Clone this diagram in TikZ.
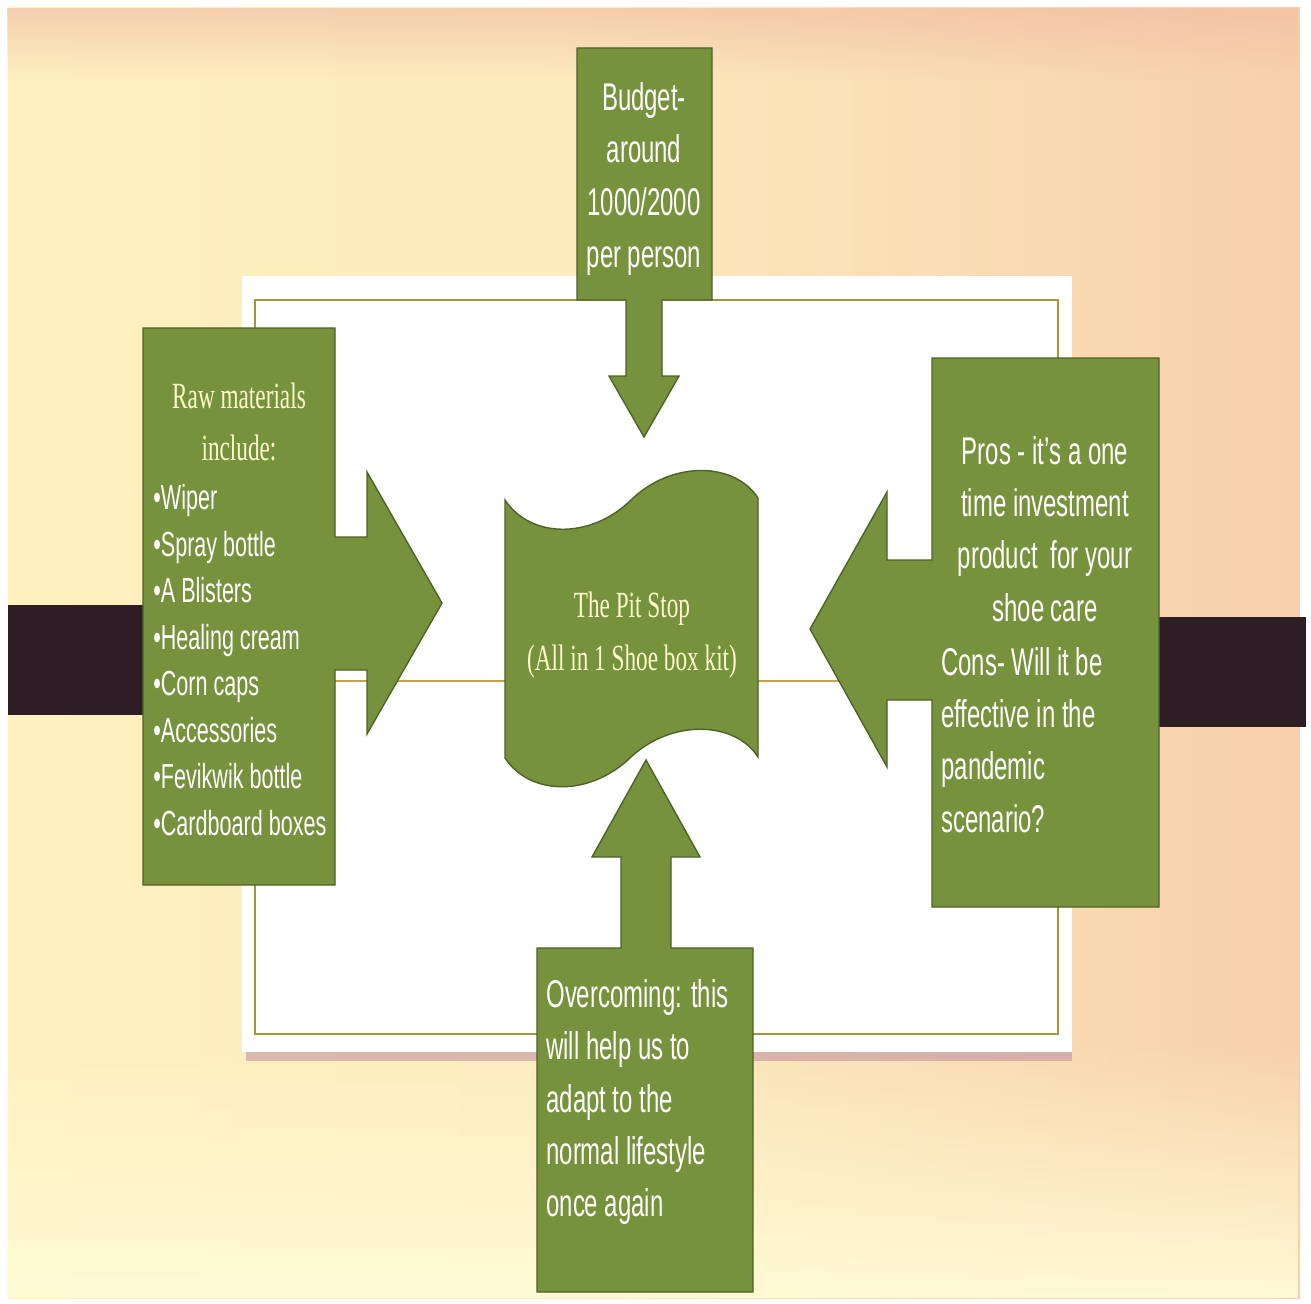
\documentclass[tikz,border=0pt]{standalone}
\usepackage{fontspec}
\usetikzlibrary{fadings}
\newfontfamily\condsans[FakeStretch=0.62]{Liberation Sans}
\newfontfamily\condserif[FakeStretch=0.63]{Liberation Serif}
\definecolor{boxgreen}{RGB}{118,146,60}
\definecolor{boxedge}{RGB}{79,98,40}
\definecolor{cream}{RGB}{252,250,205}
\definecolor{bgA}{RGB}{255,245,192}
\definecolor{bgB}{RGB}{253,236,190}
\definecolor{bgC}{RGB}{247,206,170}
\definecolor{bgD}{RGB}{243,186,156}
\definecolor{pinkband}{RGB}{240,185,165}
\definecolor{lowcream}{RGB}{255,250,212}
\definecolor{darkband}{RGB}{45,30,38}
\definecolor{cardline}{RGB}{165,150,60}
\definecolor{midline}{RGB}{205,160,70}
\definecolor{shadowc}{RGB}{190,140,160}
\pgfdeclarehorizontalshading{bgshade}{100bp}{color(0bp)=(bgA); color(45bp)=(bgB); color(78bp)=(bgC); color(100bp)=(bgD)}
\tikzfading[name=bandfade, top color=transparent!100, middle color=transparent!45, bottom color=transparent!100]
\tikzfading[name=topfade, top color=transparent!40, bottom color=transparent!100]
\tikzfading[name=lowfade, top color=transparent!100, middle color=transparent!5, bottom color=transparent!0]
\tikzset{
  callout/.style={fill=boxgreen, draw=boxedge, line width=0.8pt, line join=miter},
  sanstext/.style={text=white, font=\condsans\fontsize{22}{29.7}\selectfont, inner sep=0pt},
  listtext/.style={text=white, font=\condsans\fontsize{19.8}{26.5}\selectfont, inner sep=0pt, align=left},
  seriftext/.style={text=cream, font=\condserif\fontsize{21}{30}\selectfont, inner sep=0pt, align=center}
}
\begin{document}
\begin{tikzpicture}[x=0.02cm,y=-0.02cm]
\useasboundingbox (0,0) rectangle (1311,1304);
\fill[white] (0,0) rectangle (1311,1304);
% background
\shade[shading=bgshade] (8,8) rectangle (1300,1298);
\fill[pinkband, path fading=topfade] (8,8) rectangle (1300,80);
\fill[pinkband, path fading=bandfade] (8,200) rectangle (1300,330);
\fill[lowcream, path fading=lowfade] (8,1045) rectangle (1300,1298);
% dark bands
\fill[darkband] (8,605) rectangle (245,715);
\fill[darkband] (1060,617) rectangle (1306,727);
% card
\fill[shadowc, opacity=0.55] (246,1049) rectangle (1072,1061);
\fill[white] (242,276) rectangle (1072,1052);
\draw[cardline, line width=0.9pt] (255,300) rectangle (1058,1034);
\draw[midline, line width=0.9pt] (255,681) -- (1058,681);
% callouts
\filldraw[callout] (577,48) -- (712,48) -- (712,300) -- (662,300) -- (662,376) -- (679,376) -- (644,437) -- (609,376) -- (626,376) -- (626,300) -- (577,300) -- cycle;
\filldraw[callout] (143,328) -- (335,328) -- (335,537) -- (367,537) -- (367,472) -- (442,603) -- (367,734) -- (367,670) -- (335,670) -- (335,885) -- (143,885) -- cycle;
\filldraw[callout] (932,358) -- (1159,358) -- (1159,907) -- (932,907) -- (932,700) -- (887,700) -- (887,767) -- (810,629) -- (887,492) -- (887,560) -- (932,560) -- cycle;
\filldraw[callout] (537,1292) -- (753,1292) -- (753,948) -- (671,948) -- (671,857) -- (700,857) -- (646,760) -- (592,857) -- (621,857) -- (621,948) -- (537,948) -- cycle;
% centre wave
\filldraw[callout] (505,500) .. controls (530,538) and (590,540) .. (631,500) .. controls (672,460) and (735,462) .. (758,498) -- (758,757) .. controls (735,721) and (672,719) .. (631,757) .. controls (590,797) and (530,796) .. (505,758) -- cycle;
% texts
\node[sanstext, align=center] (budget) at (644,179) {Budget-\\around\\1000/2000\\per person};
\node[seriftext] (rawhead) at (239,422) {Raw materials\\include:};
\node[listtext, anchor=west] (rawlist) at (153,660) {•Wiper\\•Spray bottle\\•A Blisters\\•Healing cream\\•Corn caps\\•Accessories\\•Fevikwik bottle\\•Cardboard boxes};
\node[sanstext, align=center] (pros) at (1045,529) {Pros - it’s a one\\time investment\\product\ \ for your\\shoe care};
\node[sanstext, align=left, anchor=west] (cons) at (941,740) {Cons- Will it be\\effective in the\\pandemic\\scenario?};
\node[sanstext, align=left, anchor=west] (overcome) at (546,1102) {Overcoming: this\\will help us to\\adapt to the\\normal lifestyle\\once again};
\node[seriftext] (pit) at (632,635) {The Pit Stop\\(All in 1 Shoe box kit)};
\end{tikzpicture}
\end{document}
